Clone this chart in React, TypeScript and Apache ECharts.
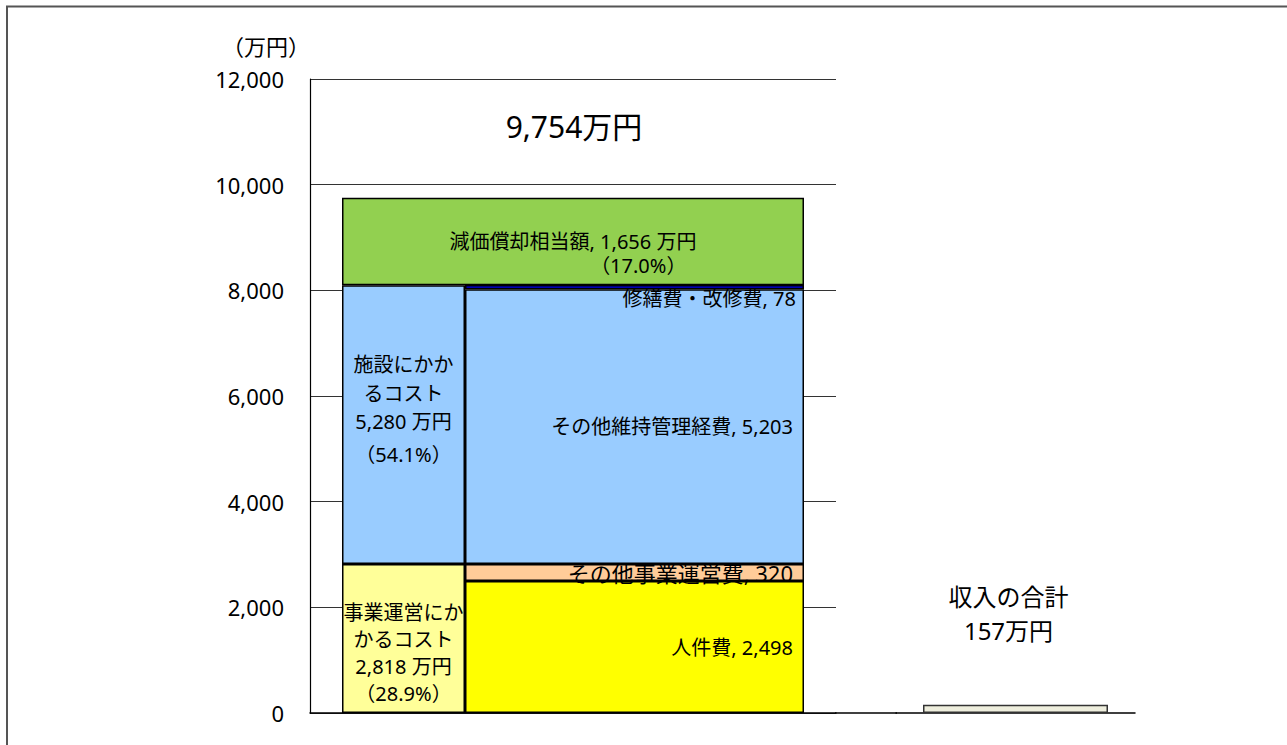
import React, { useEffect, useRef } from "react";
import * as echarts from "echarts";

// ---- data ----
const leftColumnNames = ["事業運営にか\nかるコスト", "施設にかか\nるコスト"];
const leftColumnValues = [2818, 5280];
const leftColumnShares = ["28.9%", "54.1%"];

const breakdownNames = ["人件費", "その他事業運営費", "その他維持管理経費", "修繕費・改修費"];
const breakdownValues = [2498, 320, 5203, 78];

const depreciationName = "減価償却相当額";
const depreciationValue = 1656;
const depreciationShare = "17.0%";

const totalCostValue = 9754;
const incomeName = "収入の合計";
const incomeValue = 157;

const yMin = 0;
const yMax = 12000;
const yInterval = 2000;
const unitLabel = "（万円）";

const FONT = "'Noto Sans', 'Noto Sans CJK JP', sans-serif";
const CJK = "'Noto Sans CJK JP', sans-serif";
const fmt = (v: number) => v.toLocaleString("en-US");

export default function App() {
  const ref = useRef<HTMLDivElement>(null);

  useEffect(() => {
    if (!ref.current) return;
    const chart = echarts.init(ref.current, null, { renderer: "svg" });

    const leftColors = ["#FFFF99", "#99CCFF"];
    const rightColors = ["#FFFF00", "#FFCC99", "#99CCFF", "#0000EE"];
    const border = { borderColor: "#000", borderWidth: 1.5 };

    const leftSeries = leftColumnValues.map((v, i) => ({
      type: "bar",
      name: leftColumnNames[i],
      xAxisIndex: 0,
      yAxisIndex: 0,
      stack: "L",
      barWidth: 123,
      barGap: 0,
      data: [v],
      itemStyle: { color: leftColors[i], ...border },
      label: {
        show: true,
        position: "inside",
        offset: i === 0 ? [0, 14] : [0, -13],
        color: "#000",
        fontFamily: FONT,
        fontSize: 20,
        lineHeight: i === 0 ? 27 : 28.5,
        formatter: () =>
          `${leftColumnNames[i]}\n${fmt(v)} 万円\n{p|（${leftColumnShares[i]}）}`,
        rich: {
          p: {
            fontFamily: FONT,
            fontSize: 20,
            color: "#000",
            lineHeight: i === 0 ? 27 : 37,
          },
        },
      },
    }));

    const rightSeries = breakdownValues.map((v, i) => ({
      type: "bar",
      name: breakdownNames[i],
      xAxisIndex: 0,
      yAxisIndex: 0,
      stack: "R",
      barWidth: 339,
      barGap: 0,
      data: [v],
      itemStyle: { color: rightColors[i], ...border },
      label: {
        show: true,
        position: "insideRight",
        distance: i === 3 ? 8 : 11,
        offset: i === 3 ? [0, 11] : [0, 0],
        color: "#000",
        fontFamily: FONT,
        fontSize: i === 1 ? 22 : 20,
        formatter: () => `${breakdownNames[i]}, ${fmt(v)}`,
      },
    }));

    const baseValue = leftColumnValues.reduce((a, b) => a + b, 0);

    const option: any = {
      animation: false,
      title: {
        text: `${fmt(totalCostValue)}万円`,
        left: 569,
        top: 106,
        textAlign: "center",
        textStyle: { fontFamily: FONT, fontSize: 30, fontWeight: "normal", color: "#000" },
      },
      grid: [
        { left: 310, top: 79, width: 526, height: 634 },
        { left: 896, top: 79, width: 239, height: 634 },
      ],
      xAxis: [
        {
          type: "category",
          gridIndex: 0,
          data: ["費用"],
          axisLine: { show: true, lineStyle: { color: "#000", width: 1.5 } },
          axisTick: { show: false },
          axisLabel: { show: false },
        },
        {
          type: "category",
          gridIndex: 0,
          data: ["費用"],
          show: false,
        },
        {
          type: "category",
          gridIndex: 1,
          data: [incomeName],
          axisLine: { show: true, lineStyle: { color: "#000", width: 1.5 } },
          axisTick: { show: false },
          axisLabel: { show: false },
        },
      ],
      yAxis: [
        {
          type: "value",
          gridIndex: 0,
          min: yMin,
          max: yMax,
          interval: yInterval,
          axisLine: { show: true, lineStyle: { color: "#000", width: 1.2 } },
          axisTick: { show: false },
          axisLabel: {
            fontFamily: FONT,
            fontSize: 22,
            color: "#000",
            margin: 26,
            formatter: (v: number) => fmt(v),
          },
          splitLine: { show: true, lineStyle: { color: "#333", width: 1.2 } },
        },
        {
          type: "value",
          gridIndex: 1,
          min: yMin,
          max: yMax,
          interval: yInterval,
          show: false,
          splitLine: { show: false },
        },
      ],
      graphic: [
        {
          type: "rect",
          shape: { x: 7, y: 6.5, width: 1400, height: 900 },
          style: { fill: "none", stroke: "#555", lineWidth: 2 },
          silent: true,
        },
        {
          type: "line",
          shape: { x1: 835, y1: 713, x2: 897, y2: 713 },
          style: { stroke: "#000", lineWidth: 1.5 },
          silent: true,
        },
        {
          type: "text",
          x: 266,
          y: 45,
          style: {
            text: unitLabel,
            fontFamily: CJK,
            fontSize: 22,
            fill: "#000",
            align: "center",
            verticalAlign: "middle",
          },
          silent: true,
        },
      ],
      series: [
        ...leftSeries,
        ...rightSeries,
        {
          type: "bar",
          name: "base",
          xAxisIndex: 1,
          yAxisIndex: 0,
          stack: "G",
          barWidth: 462,
          data: [baseValue],
          itemStyle: { color: "rgba(0,0,0,0)", borderWidth: 0 },
          silent: true,
        },
        {
          type: "bar",
          name: depreciationName,
          xAxisIndex: 1,
          yAxisIndex: 0,
          stack: "G",
          barWidth: 462,
          data: [depreciationValue],
          itemStyle: { color: "#92D050", ...border },
          label: {
            show: true,
            position: "inside",
            offset: [0, 12],
            color: "#000",
            fontFamily: FONT,
            fontSize: 20,
            lineHeight: 24.5,
            formatter: () =>
              `${depreciationName}, ${fmt(depreciationValue)} 万円\n{p|（${depreciationShare}）}`,
            rich: {
              p: {
                fontFamily: FONT,
                fontSize: 20,
                color: "#000",
                lineHeight: 24.5,
                align: "right",
                padding: [0, 10, 0, 0],
              },
            },
          },
        },
        {
          type: "bar",
          name: incomeName,
          xAxisIndex: 2,
          yAxisIndex: 1,
          barWidth: 185,
          data: [incomeValue],
          itemStyle: { color: "#EEEEDD", borderColor: "#333", borderWidth: 1.5 },
          label: {
            show: true,
            position: "top",
            distance: 57,
            offset: [-7, 0],
            color: "#000",
            fontFamily: FONT,
            fontSize: 24,
            lineHeight: 34,
            formatter: () => `${incomeName}\n${fmt(incomeValue)}万円`,
          },
        },
      ],
    };

    chart.setOption(option);
    return () => chart.dispose();
  }, []);

  return (
    <div
      ref={ref}
      style={{ position: "absolute", left: 0, top: 0, width: 1287, height: 745, background: "#fff" }}
    />
  );
}
